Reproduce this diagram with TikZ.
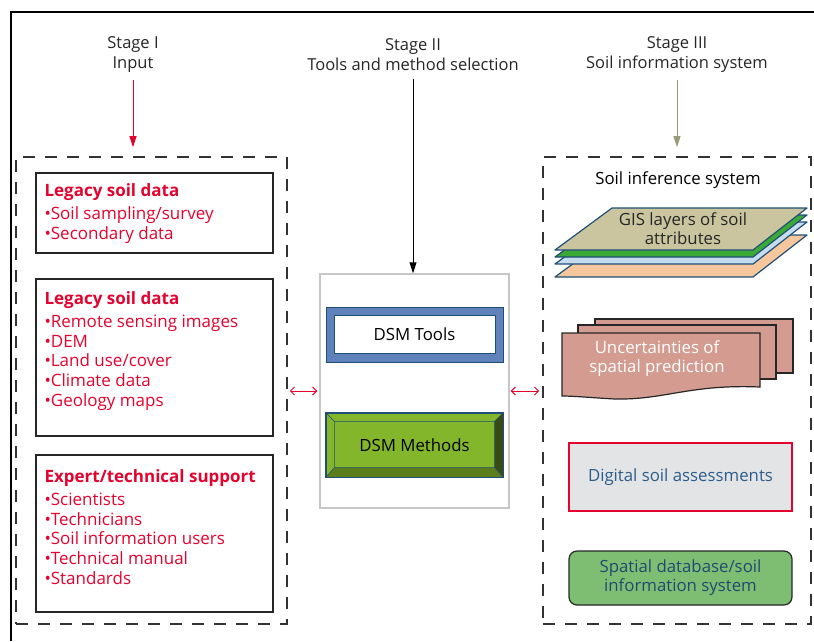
\documentclass[tikz,border=0pt]{standalone}
\usepackage{fontspec}
\setmainfont{Open Sans}
\usetikzlibrary{arrows.meta, positioning, calc}
\usepackage{xcolor}
\definecolor{InputRed}{HTML}{E4032E}
\definecolor{StageOlive}{HTML}{9C9C7A}
\definecolor{ToolBlue}{HTML}{5E82B9}
\definecolor{EdgeBlue}{HTML}{1F4E79}
\definecolor{MethodGreen}{HTML}{84B62B}
\definecolor{MethodDark}{HTML}{3A4A14}
\definecolor{MethodMid}{HTML}{5C7D1C}
\definecolor{Khaki}{HTML}{CAC59F}
\definecolor{LayerGreen}{HTML}{3BA935}
\definecolor{LayerBlue}{HTML}{C5DDEE}
\definecolor{LayerPeach}{HTML}{F6C79C}
\definecolor{Salmon}{HTML}{D49C90}
\definecolor{PaleGray}{HTML}{E3E4E5}
\definecolor{TextBlue}{HTML}{2B5D8C}
\definecolor{DbGreen}{HTML}{7EBE73}

\begin{document}
\begin{tikzpicture}[
    x=1pt, y=-1pt,
    stagelbl/.style={align=center, text=black!85, font=\fontsize{16.5}{20}\selectfont},
    stagearr/.style={-{Triangle[length=11pt, width=7pt]}, line width=1pt},
    groupbox/.style={draw=black!80, line width=1.6pt, dash pattern=on 12pt off 10pt},
    listbox/.style={draw=black!85, line width=1.4pt, minimum width=237pt},
    listtext/.style={anchor=north west, align=left, inner sep=0pt, text=InputRed,
        font=\fontsize{17}{19.8}\selectfont},
    biarr/.style={{Straight Barb[length=4pt]}-{Straight Barb[length=4pt]}, InputRed, line width=1pt},
    every node/.style={font=\fontsize{16.8}{19}\selectfont}
]
\useasboundingbox (0,0) rectangle (814,641);

% outer frame, open to the right and bottom
\draw[line width=1.8pt] (11,641) -- (11,12) -- (814,12);

% =============================================
% STAGE HEADINGS
% =============================================
\node[stagelbl] (stage1) at (133,55) {Stage I\\Input};
\node[stagelbl] (stage2) at (413,55) {Stage II\\Tools and method selection};
\node[stagelbl] (stage3) at (677,55) {Stage III\\Soil information system};

% =============================================
% LEFT: inputs
% =============================================
\node[groupbox, minimum width=271pt, minimum height=467pt] (inputbox) at (151.5,390.5) {};

\node[listbox, minimum height=80pt] (legacyA) at (154.5,213) {};
\node[listbox, minimum height=157pt] (legacyB) at (154.5,357.5) {};
\node[listbox, minimum height=157pt] (expert) at (154.5,533.5) {};

\node[listtext] (legacyAtxt) at ([shift={(9,11)}]legacyA.north west)
    {\textbf{Legacy soil data}\\[3pt] •Soil sampling/survey\\ •Secondary data};
\node[listtext] (legacyBtxt) at ([shift={(9,13)}]legacyB.north west)
    {\textbf{Legacy soil data}\\[3pt] •Remote sensing images\\ •DEM\\ •Land use/cover\\
     •Climate data\\ •Geology maps};
\node[listtext] (experttxt) at ([shift={(9,15)}]expert.north west)
    {\textbf{Expert/technical support}\\[3pt] •Scientists\\ •Technicians\\
     •Soil information users\\ •Technical manual\\ •Standards};

% =============================================
% CENTER: tools and methods
% =============================================
\node[draw=black!22, line width=1.4pt, minimum width=189pt, minimum height=234pt] (selbox) at (414.5,391) {};

\node[draw=EdgeBlue, fill=ToolBlue, line width=1pt, minimum width=177pt, minimum height=55pt] (tools) at (414.5,334.5) {};
\node[draw=EdgeBlue, fill=white, line width=0.8pt, minimum width=161pt, minimum height=38pt] (toolsface) at (tools) {DSM Tools};

\node[draw=EdgeBlue, fill=MethodGreen, line width=1pt, minimum width=177pt, minimum height=64pt] (methods) at (414.5,445) {DSM Methods};
\coordinate (mNW) at ([shift={(9,9)}]methods.north west);
\coordinate (mNE) at ([shift={(-9,9)}]methods.north east);
\coordinate (mSE) at ([shift={(-9,-10)}]methods.south east);
\coordinate (mSW) at ([shift={(9,-10)}]methods.south west);
\fill[MethodDark] (methods.north east) -- (methods.south east) -- (mSE) -- (mNE) -- cycle;
\fill[MethodMid] (methods.south west) -- (methods.south east) -- (mSE) -- (mSW) -- cycle;
\draw[EdgeBlue, line width=0.5pt] (mNW) rectangle (mSE)
    (methods.north west) -- (mNW) (methods.north east) -- (mNE)
    (methods.south east) -- (mSE) (methods.south west) -- (mSW);
\draw[EdgeBlue, line width=1pt] (methods.north west) rectangle (methods.south east);

% =============================================
% RIGHT: soil inference system
% =============================================
\node[groupbox, minimum width=268pt, minimum height=467pt] (sisbox) at (677,390.5) {};
\node (sistitle) at (678,180) {Soil inference system};

% stacked GIS layers
\foreach \dy/\col in {27/LayerPeach, 14/LayerBlue, 7/LayerGreen, 0/Khaki}
    \draw[EdgeBlue, line width=1.2pt, fill=\col, line join=round]
        (612,208+\dy) -- (807,208+\dy) -- (753,250+\dy) -- (555,250+\dy) -- cycle;
\node[align=center, text=black!85] (gis) at (683,229) {GIS layers of soil\\attributes};

% uncertainty sheets
\foreach \dx/\dy in {33/-14, 16/-8}
    \draw[draw=black!85, fill=Salmon, line width=1.2pt]
        ([shift={(\dx,\dy)}]562,333) rectangle ([shift={(\dx,\dy)}]760,387);
\draw[draw=black!85, fill=Salmon, line width=1.2pt]
    (562,333) -- (760,333) -- (760,387)
    .. controls (690,384) and (665,400) .. (615,399)
    .. controls (595,398) and (575,396) .. (562,396) -- cycle;
\node[align=center, text=white] (uncert) at (657,359) {Uncertainties of\\spatial prediction};

\node[draw=InputRed, fill=PaleGray, line width=1.2pt, text=TextBlue,
      minimum width=223pt, minimum height=68pt] (assess) at (680.5,477) {Digital soil assessments};

\node[draw=black!85, fill=DbGreen, line width=1.2pt, rounded corners=8pt, text=TextBlue!80!black,
      align=center, minimum width=223pt, minimum height=54pt] (spdb) at (680.5,578)
      {Spatial database/soil\\information system};

% =============================================
% CONNECTORS
% =============================================
\draw[stagearr, InputRed, shorten <=4pt, shorten >=9pt] (stage1.south) -- (stage1.south |- inputbox.north);
\draw[stagearr, black, shorten <=4pt] (stage2.south) -- (stage2.south |- selbox.north);
\draw[stagearr, StageOlive, shorten <=4pt, shorten >=9pt] (stage3.south) -- (stage3.south |- sisbox.north);

\draw[biarr, shorten <=2pt, shorten >=2pt] (selbox.west -| inputbox.east) -- (selbox.west);
\draw[biarr, shorten <=1pt, shorten >=3pt] (selbox.east) -- (selbox.east -| sisbox.west);

\end{tikzpicture}
\end{document}
